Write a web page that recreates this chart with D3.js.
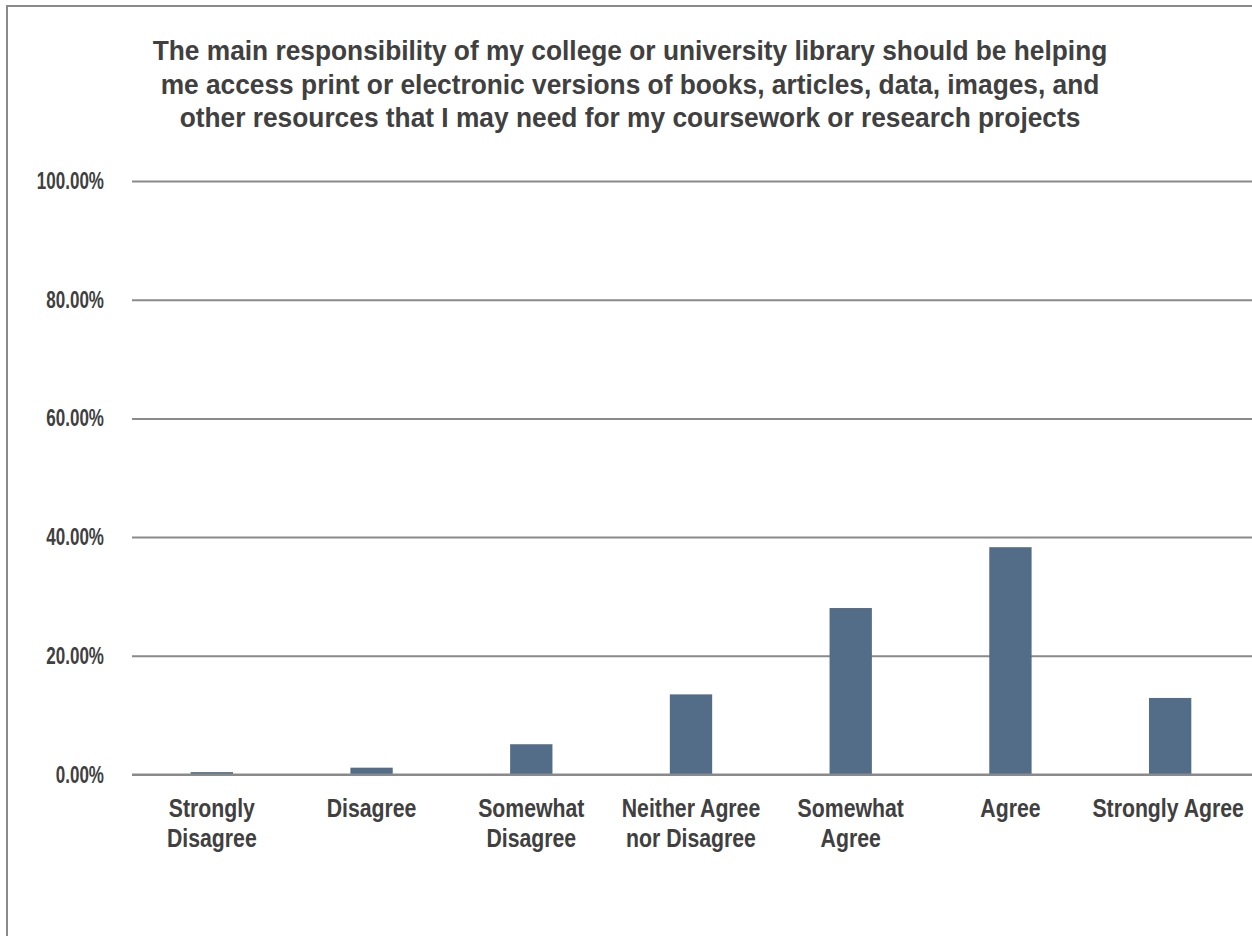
<!DOCTYPE html>
<html>
<head>
<meta charset="utf-8">
<script src="https://cdn.jsdelivr.net/npm/d3@7"></script>
<style>
  html, body { margin: 0; padding: 0; background: #fff; }
  svg { display: block; }
  text { font-family: "Liberation Sans", Arial, sans-serif; font-weight: bold; fill: #404040; }
</style>
</head>
<body>
<svg id="chart" width="1252" height="936"></svg>
<script>
const titleLines = [
  "The main responsibility of my college or university library should be helping",
  "me access print or electronic versions of books, articles, data, images, and",
  "other resources that I may need for my coursework or research projects"
];
const categories = [
  ["Strongly", "Disagree"],
  ["Disagree"],
  ["Somewhat", "Disagree"],
  ["Neither Agree", "nor Disagree"],
  ["Somewhat", "Agree"],
  ["Agree"],
  ["Strongly Agree"]
];
const values = [0.4, 1.15, 5.1, 13.5, 28.05, 38.3, 12.9];
const yTicks = [0, 20, 40, 60, 80, 100];
const yTickLabels = ["0.00%", "20.00%", "40.00%", "60.00%", "80.00%", "100.00%"];

const svg = d3.select("#chart");
const W = 1252, H = 936;
const plot = { left: 132, right: 1250, top: 181, bottom: 774.5 };
const gridColor = "#8a8a8a";
const barColor = "#536d89";

// outer frame
svg.append("rect").attr("x", 7).attr("y", 6).attr("width", W).attr("height", H)
  .attr("fill", "none").attr("stroke", gridColor).attr("stroke-width", 2);

const keys = categories.map(c => c.join(" "));
const x = d3.scaleBand().domain(keys).range([plot.left, plot.right]).paddingInner(0).paddingOuter(0);
const y = d3.scaleLinear().domain([0, 100]).range([plot.bottom, plot.top]);

// draw condensed text: anchor point (px, py), horizontal scale sx
function condensedText(parent, px, py, str, size, sx, anchor) {
  return parent.append("text")
    .attr("transform", `translate(${px},${py}) scale(${sx},1)`)
    .attr("text-anchor", anchor)
    .attr("font-size", size)
    .text(str);
}

// gridlines
const yAxis = d3.axisLeft(y).tickValues(yTicks)
  .tickSize(-(W - plot.left)).tickFormat("");
const gy = svg.append("g").attr("transform", `translate(${plot.left},0)`).call(yAxis);
gy.select(".domain").remove();
gy.selectAll(".tick line").attr("stroke", gridColor).attr("stroke-width", 2);
gy.selectAll(".tick text").remove();

// y tick labels
const yl = svg.append("g");
yTicks.forEach((t, i) => {
  condensedText(yl, 104, y(t) + 8, yTickLabels[i], 23, 0.74, "end");
});

// bars
const bw = x.bandwidth() * 0.265;
svg.append("g").selectAll("rect").data(values).join("rect")
  .attr("x", (d, i) => x(keys[i]) + x.bandwidth() / 2 - bw / 2)
  .attr("width", bw)
  .attr("y", d => y(d))
  .attr("height", d => y(0) - y(d))
  .attr("fill", barColor);

// baseline over bars
svg.append("line").attr("x1", plot.left).attr("x2", W).attr("y1", y(0)).attr("y2", y(0))
  .attr("stroke", gridColor).attr("stroke-width", 2);

// category labels
const xl = svg.append("g");
categories.forEach((lines, i) => {
  const cx = x(keys[i]) + x.bandwidth() / 2 - (i === categories.length - 1 ? 2 : 0);
  lines.forEach((ln, j) => {
    condensedText(xl, cx, 817 + j * 30, ln, 25, 0.85, "middle");
  });
});

// title
const tg = svg.append("g");
const probe = tg.append("text").attr("font-size", 27.5).text(titleLines[0]);
const tFactor = 955 / probe.node().getComputedTextLength();
probe.remove();
titleLines.forEach((ln, i) => {
  condensedText(tg, 630, 60 + i * 33.5, ln, 27.5, tFactor, "middle");
});
</script>
</body>
</html>
